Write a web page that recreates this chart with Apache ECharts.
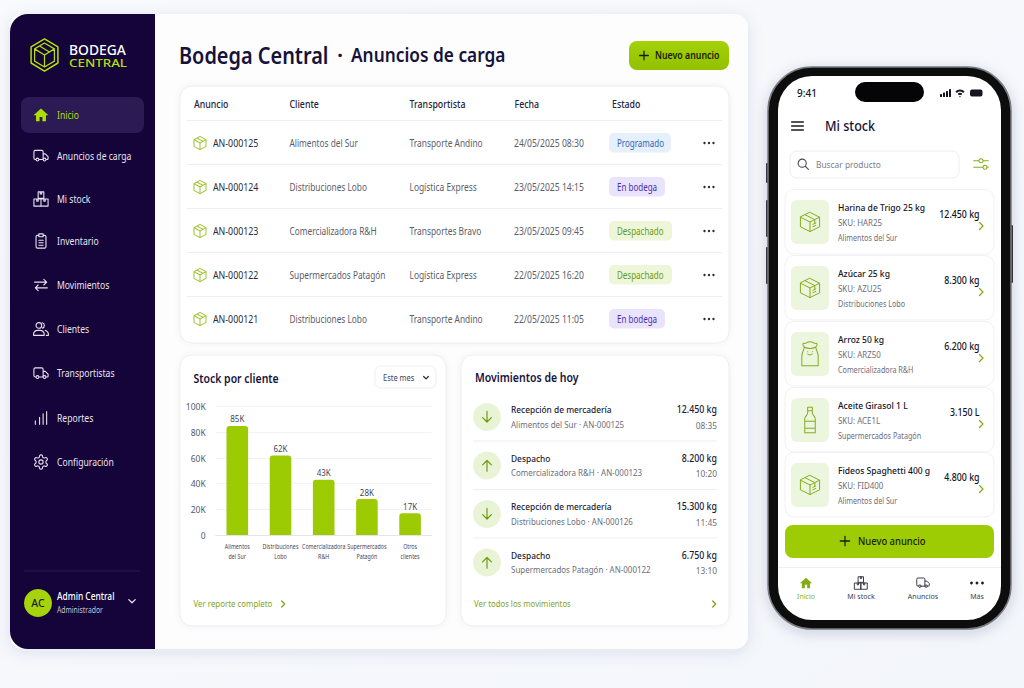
<!DOCTYPE html>
<html lang="es"><head><meta charset="utf-8"><title>Bodega Central</title>
<style>html,body{margin:0;padding:0;background:#f6f8fc}#c{width:1024px;height:688px}</style>
<script src="https://cdn.jsdelivr.net/npm/echarts@6/dist/echarts.min.js"></script></head>
<body><div id="c"></div>
<script>
// ---- data ----
const categories=['Alimentos\ndel Sur','Distribuciones\nLobo','Comercializadora\nR&H','Supermercados\nPatagón','Otros\nclientes'];
const stockValues=[85000,62000,43000,28000,17000];
const navLabels=['Inicio','Anuncios de carga','Mi stock','Inventario','Movimientos','Clientes','Transportistas','Reportes','Configuración'];
const tableHeaders=['Anuncio','Cliente','Transportista','Fecha','Estado'];
const announceIds=['AN-000125','AN-000124','AN-000123','AN-000122','AN-000121'];
const announceClients=['Alimentos del Sur','Distribuciones Lobo','Comercializadora R&H','Supermercados Patagón','Distribuciones Lobo'];
const announceCarriers=['Transporte Andino','Logística Express','Transportes Bravo','Logística Express','Transporte Andino'];
const announceDates=['24/05/2025 08:30','23/05/2025 14:15','23/05/2025 09:45','22/05/2025 16:20','22/05/2025 11:05'];
const announceStates=['Programado','En bodega','Despachado','Despachado','En bodega'];
const moveTitles=['Recepción de mercadería','Despacho','Recepción de mercadería','Despacho'];
const moveSubs=['Alimentos del Sur · AN-000125','Comercializadora R&H · AN-000123','Distribuciones Lobo · AN-000126','Supermercados Patagón · AN-000122'];
const moveKg=['12.450 kg','8.200 kg','15.300 kg','6.750 kg'];
const moveTimes=['08:35','10:20','11:45','13:10'];
const productNames=['Harina de Trigo 25 kg','Azúcar 25 kg','Arroz 50 kg','Aceite Girasol 1 L','Fideos Spaghetti 400 g'];
const productSkus=['SKU: HAR25','SKU: AZU25','SKU: ARZ50','SKU: ACE1L','SKU: FID400'];
const productOwners=['Alimentos del Sur','Distribuciones Lobo','Comercializadora R&H','Supermercados Patagón','Alimentos del Sur'];
const productQty=['12.450 kg','8.300 kg','6.200 kg','3.150 L','4.800 kg'];
const tabLabels=['Inicio','Mi stock','Anuncios','Más'];

// ---- drawing helpers ----
const FONT='"Noto Sans"', SX=0.83, WIDE=0.88;
const LIME='#9ccb04', INK='#16123a', GRAY='#5c5d6a', LINK='#7fa51e';
const els=[];
function R(x,y,w,h,r,fill,stroke,extra){els.push({type:'rect',z:-1,silent:true,shape:{x,y,width:w,height:h,r},style:Object.assign({fill:fill||'none',stroke:stroke||'none',lineWidth:stroke?1:0},extra||{})});}
function L(x1,y1,x2,y2,c){els.push({type:'line',z:-1,silent:true,shape:{x1,y1,x2,y2},style:{stroke:c,lineWidth:1}});}
function C(cx,cy,r,fill){els.push({type:'circle',z:-1,silent:true,shape:{cx,cy,r},style:{fill}});}
function T(t,x,y,size,color,weight,align,sx){els.push({type:'text',z:0,silent:true,x,y,scaleX:sx||SX,scaleY:1,style:{text:t,x:0,y:0,fill:color,font:(weight||400)+' '+size+'px '+FONT,textAlign:align||'left',textVerticalAlign:'middle'}});}
const P={
 home:'M12 3L1.5 12.5H5V21H10V15H14V21H19V12.5H22.5Z',
 truck:'M15 17V6a2 2 0 0 0-2-2H4a2 2 0 0 0-2 2v9a2 2 0 0 0 2 2h1M9 17h6M15 9h3l4 4v3a1 1 0 0 1-1 1h-2M9 17a2 2 0 1 1-4 0a2 2 0 1 1 4 0M19 17a2 2 0 1 1-4 0a2 2 0 1 1 4 0',
 boxes:'M8 2h8v9H8zM2 12h10v10H2zM12 12h10v10H12zM11 2v3h2V2M6 12v3h2v-3M16 12v3h2v-3',
 clip:'M9 4H7a2 2 0 0 0-2 2v14a2 2 0 0 0 2 2h10a2 2 0 0 0 2-2V6a2 2 0 0 0-2-2h-2M9 2h6v4H9zM9 11h6M9 14.5h6M9 18h6',
 swap:'M3 8h17M16 4l4 4-4 4M21 16H4M8 12l-4 4 4 4',
 users:'M13 7a4 4 0 1 1-8 0a4 4 0 1 1 8 0M1.5 21v-2a6 6 0 0 1 6-5h3a6 6 0 0 1 6 5v2zM14 3.2a4 4 0 0 1 0 7.6M18 14a6 6 0 0 1 4.5 5v2h-3',
 bars:'M4 21v-5M10 21V11M15 21V6M20 21V3',
 gear:'M12.22 2h-.44a2 2 0 0 0-2 2v.18a2 2 0 0 1-1 1.73l-.43.25a2 2 0 0 1-2 0l-.15-.08a2 2 0 0 0-2.73.73l-.22.38a2 2 0 0 0 .73 2.73l.15.1a2 2 0 0 1 1 1.72v.51a2 2 0 0 1-1 1.74l-.15.09a2 2 0 0 0-.73 2.73l.22.38a2 2 0 0 0 2.73.73l.15-.08a2 2 0 0 1 2 0l.43.25a2 2 0 0 1 1 1.73V20a2 2 0 0 0 2 2h.44a2 2 0 0 0 2-2v-.18a2 2 0 0 1 1-1.73l.43-.25a2 2 0 0 1 2 0l.15.08a2 2 0 0 0 2.73-.73l.22-.39a2 2 0 0 0-.73-2.73l-.15-.08a2 2 0 0 1-1-1.74v-.5a2 2 0 0 1 1-1.74l.15-.09a2 2 0 0 0 .73-2.73l-.22-.38a2 2 0 0 0-2.73-.73l-.15.08a2 2 0 0 1-2 0l-.43-.25a2 2 0 0 1-1-1.73V4a2 2 0 0 0-2-2zM15 12a3 3 0 1 1-6 0a3 3 0 1 1 6 0',
 cube:'M12 2L21 7V17L12 22L3 17V7ZM3 7L12 12L21 7M12 12V22M7.5 4.5L16.5 9.5',
 parcel:'M12 2L22 7V17L12 22L2 17V7ZM2 7L12 12L22 7M12 12V22M7 4.5L17 9.5V13M15 17l3-1.5M15 14.5l3-1.5',
 bag:'M7 6C5 4 6 2 8 3C10 1 14 1 16 3C18 2 19 4 17 6M7 6C10 7.5 14 7.5 17 6M7 6C7 9 5 10 5 14V22H19V14C19 10 17 9 17 6M10 10h.1M14 10h.1M10 12c1 1 3 1 4 0',
 bottle:'M10 1h4v3h-4zM10 4v2C10 8 7.5 8.5 7.5 11V23H16.5V11C16.5 8.5 14 8 14 6V4M7.5 13h9M7.5 19h9',
 logoOuter:'M12 1L21.2 6.5V17.5L12 23L2.8 17.5V6.5Z',
 logoInner:'M12 3.8L18.8 7.8V16.2L12 20.2L5.2 16.2V7.8ZM5.2 7.8L12 12L18.8 7.8M12 12V20.2M8.6 5.8L15.4 9.9',
 chevR:'M9 5l7 7-7 7', chevD:'M5 9l7 7 7-7', plus:'M12 4v16M4 12h16',
 up:'M12 21V4M5 11l7-7 7 7', down:'M12 3v17M5 13l7 7 7-7',
 menu:'M2 5h20M2 12h20M2 19h20', search:'M18 10.5a7.5 7.5 0 1 1-15 0a7.5 7.5 0 1 1 15 0M16 16l6 6',
 sliders:'M1 7h8M15 7h8M1 17h14M21 17h2M15 7a3 3 0 1 1-6 0a3 3 0 1 1 6 0M21 17a3 3 0 1 1-6 0a3 3 0 1 1 6 0',
 wifi:'M2 9.5a15 15 0 0 1 20 0L19 13a10.5 10.5 0 0 0-14 0ZM7 15a7 7 0 0 1 10 0L14.5 18a3.5 3.5 0 0 0-5 0ZM12 23l-2-2.5a3 3 0 0 1 4 0Z'
};
const iconName=new Map();
Object.keys(P).forEach(k=>{echarts.graphic.registerShape('icon_'+k,echarts.graphic.extendPath(P[k],{}));iconName.set(P[k],'icon_'+k);});
function I(p,cx,cy,size,color,lw,filled){const s=size/24;els.push({type:iconName.get(p),z:-1,silent:true,x:cx-12*s,y:cy-12*s,scaleX:s,scaleY:s,style:{fill:filled?color:'none',stroke:filled?'none':color,lineWidth:(lw||1)/s,lineCap:'round',lineJoin:'round'}});}

// ---- main panel ----
R(10,14,738,635,14,'#fdfdfe',null,{shadowBlur:16,shadowColor:'rgba(30,40,90,0.10)',shadowOffsetY:3});
R(10,14,145,635,[18,0,0,18],'#15043a');
I(P.logoOuter,44.5,55,35,'#b5df08',1.5);
I(P.logoInner,44.5,55,35,'#b5df08',1.2);
T('BODEGA',69,49,14,'#ffffff',500,'left',0.99);
T('CENTRAL',69,63,11.5,'#b5df08',500,'left',1.16);
R(21,97,123,36,8,'#2c1a54');
const navY=[115,156,199,241,285,329,373.5,418,462];
const navIc=['home','truck','boxes','clip','swap','users','truck','bars','gear'];
navLabels.forEach((n,i)=>{const on=i===0,c=on?'#b0dc06':'#e6e3ee';
 I(P[navIc[i]],41,navY[i],17,c,1.1,on);
 T(n,57,navY[i],10.5,c,400,'left',0.82);});
L(24,571,140,571,'#2b1a50');
C(38,603,14,'#a6d30a');
T('AC',38,603,11,'#1a1a2a',500,'center',0.95);
T('Admin Central',57,596,10.5,'#ffffff',500,'left',0.8);
T('Administrador',57,610,8.5,'#c6c2d4',400,'left',0.8);
I(P.chevD,132,601,11,'#e6e3ee',1.3);

T('Bodega Central',179,54,24,INK,600,'left',0.83);
T('·',340,54,20,INK,700,'center',1);
T('Anuncios de carga',351,54,20,INK,600,'left',0.865);
els.push({type:'rect',z:-1,silent:true,shape:{x:629,y:41,width:100,height:29,r:8},style:{fill:{type:'linear',x:0,y:0,x2:0,y2:1,colorStops:[{offset:0,color:'#a4d207'},{offset:1,color:'#93c000'}]}}});
I(P.plus,644,55.5,13,'#1a2008',1.3);
T('Nuevo anuncio',655,55.5,10,'#1a2008',600,'left',WIDE);

// table
const cardShadow={shadowBlur:6,shadowColor:'rgba(30,40,90,0.05)'};
R(180,86,549,257,12,'#ffffff','#eceef2',cardShadow);
const colX=[194,289.5,409.5,514.5,612];
tableHeaders.forEach((h,i)=>T(h,colX[i],104.5,10.5,'#24243c',500,'left',0.84));
const pill={Programado:[62,'#e6f0fc','#2f66bb'],'En bodega':[56,'#e9e3fb','#4a2db2'],Despachado:[63,'#edf6d9','#6b9a10']};
announceIds.forEach((id,i)=>{const y=143+44*i;
 L(187,y-22.5,722,y-22.5,'#eeeff3');
 I(P.cube,200,y,16,'#9cc42c',1);
 T(id,213,y,10,'#2a2a3e',400,'left',WIDE);
 T(announceClients[i],289.5,y,10,GRAY);
 T(announceCarriers[i],409.5,y,10,GRAY,400,'left',0.84);
 T(announceDates[i],514,y,10,GRAY,400,'left',0.86);
 const p=pill[announceStates[i]];
 R(609,y-10,p[0],19.5,5,p[1]);
 T(announceStates[i],617,y,10,p[2],400,'left',0.8);
 [-4.5,0,4.5].forEach(d=>C(709+d,y,1.2,'#26263a'));
});

// stock card
R(180,355,266,271,12,'#ffffff','#eceef2',cardShadow);
T('Stock por cliente',193.5,377,13,INK,600,'left',0.805);
R(375,366,61,22,6,'#ffffff','#eeeff3');
T('Este mes',383,377.5,8.5,'#44465a',400,'left',WIDE);
I(P.chevD,426,377.5,8,'#26263a',1.2);
T('Ver reporte completo',193.5,604,9.5,LINK);
I(P.chevR,283,604,10,LINK,1.4);

// movements card
R(461,355,268,271,12,'#ffffff','#eceef2',cardShadow);
T('Movimientos de hoy',475,377,13,INK,600,'left',0.81);
const moveY=[409.5,458,506.5,555];
moveTitles.forEach((t,i)=>{const y=moveY[i];
 if(i)L(473,y-17,717,y-17,'#eeeff3');
 C(487,y+7.5,14,'#e9f4d6');
 I(i%2?P.up:P.down,487,y+7.5,15,'#6f9a10',1.2);
 T(t,511,y,9.5,'#1d1d33',500,'left',0.88);
 T(moveSubs[i],511,y+15,9.5,'#6d6e7a',400,'left',0.84);
 T(moveKg[i],717,y,10.5,'#1d1d33',500,'right',0.84);
 T(moveTimes[i],717,y+15.5,9.5,'#6d6e7a',400,'right',WIDE);
});
T('Ver todos los movimientos',474,604,9.5,LINK,400,'left',0.82);
I(P.chevR,714,604,10,LINK,1.4);

// ---- phone ----
[[766,163,3,20],[766,200,3,37],[766,247,3,37],[1010,225,3,58]].forEach(b=>R(b[0],b[1],b[2],b[3],1,'#3a3a3e'));
R(768,67,243,562,44,'#0c0c0e','#7a7a80',{lineWidth:1.5,shadowBlur:14,shadowColor:'rgba(20,30,70,0.18)',shadowOffsetY:3});
R(778,76,223,544,34,'#ffffff');
R(855,82,69,20,10,'#050507');
T('9:41',797,93,10,'#15151f',500,'left',1);
[[940,3],[943,4.5],[946,6],[949,8]].forEach(b=>R(b[0],97-b[1],2,b[1],0.5,'#15151f'));
I(P.wifi,960,92.5,11,'#15151f',0,true);
R(970,89.5,12.5,7,2,'#15151f');
I(P.menu,797.5,126,14,'#1c1c2c',1.5);
T('Mi stock',825,126,14,INK,500,'left',0.9);
R(790,151,169,27,7,'#ffffff','#eceef2');
I(P.search,803,164,13,'#44465a',1.1);
T('Buscar producto',816,164,9.5,'#7d7e8a',400,'left',WIDE);
I(P.sliders,981,164,16,'#86ad1e',1);

const prodTitleY=[207,273,339,405,470];
const prodIcons=[P.parcel,P.parcel,P.bag,P.bottle,P.parcel];
productNames.forEach((n,i)=>{const y=prodTitleY[i];
 R(785,y-17.5,209,64.5,9,'#ffffff','#f0f1f4');
 R(791,y-7,38,44,6,'#ecf5dd');
 I(prodIcons[i],810,y+15,i===3?28:i===2?28:23,'#86ad1e',1);
 T(n,838,y,9.5,'#14141f',500,'left',0.9);
 T(productSkus[i],838,y+15.5,9,'#6d6e7a',400,'left',WIDE);
 T(productOwners[i],838,y+30.5,9,'#6d6e7a',400,'left',0.8);
 T(productQty[i],979.5,y+7.5,10,'#14141f',500,'right',0.88);
 I(P.chevR,981,y+19,12,'#86ad1e',1.3);
});
R(785,525,209,33,8,'#9dcc05');
I(P.plus,845,541,14,'#1a2008',1.3);
T('Nuevo anuncio',858,541,11.5,'#1a2008',500,'left',0.82);
L(778,567.5,1001,567.5,'#eceef2');
const tabX=[806,861,923,977];
const tabIc=[P.home,P.boxes,P.truck];
tabLabels.forEach((t,i)=>{const c=i?'#3d3e4c':'#8ab512';
 if(i<3)I(tabIc[i],tabX[i],583,i?15:14,i?'#3d3e4c':'#84ad14',1,!i);
 else [-5.5,0,5.5].forEach(d=>C(tabX[i]+d,583,1.4,'#1c1c2c'));
 T(t,tabX[i],596,8,c,400,'center',WIDE);
});

// ---- chart ----
const chart=echarts.init(document.getElementById('c'),null,{renderer:'svg',width:1024,height:688});
chart.setOption({
 animation:false,
 backgroundColor:{type:'linear',x:0,y:0,x2:1,y2:1,colorStops:[{offset:0,color:'#f8fafd'},{offset:1,color:'#f3f6fb'}]},
 grid:{left:215.7,top:406.7,width:216,height:128.3,containLabel:false},
 xAxis:{type:'category',data:categories,
  axisTick:{show:false},
  axisLine:{lineStyle:{color:'#e4e5ea'}},
  axisLabel:{show:false}},
 yAxis:{type:'value',min:0,max:100000,interval:20000,
  axisLine:{show:false},axisTick:{show:false},
  splitLine:{lineStyle:{color:'#f1f2f5'}},
  axisLabel:{margin:10,fontSize:8.5,color:'#56576a',fontFamily:FONT,formatter:v=>v===0?'0':(v/1000)+'K'}},
 series:[{type:'bar',data:stockValues,barWidth:'50%',
  itemStyle:{color:LIME,borderRadius:[3,3,0,0]},
  label:{show:true,position:'top',distance:3,fontSize:8,color:'#45465a',fontFamily:FONT,formatter:p=>Math.round(p.value/1000)+'K'}}]
});
// category labels: horizontally condensed so that they sit side by side as in the reference,
// placed from the chart's own x scale
const axisY=chart.convertToPixel({yAxisIndex:0},0);
categories.forEach((c,i)=>{const px=chart.convertToPixel({xAxisIndex:0},i);
 c.split('\n').forEach((line,k)=>T(line,px,axisY+11+10.2*k,7.5,'#45465a',400,'center',0.71));
});
chart.setOption({graphic:{elements:els}});
</script></body></html>
